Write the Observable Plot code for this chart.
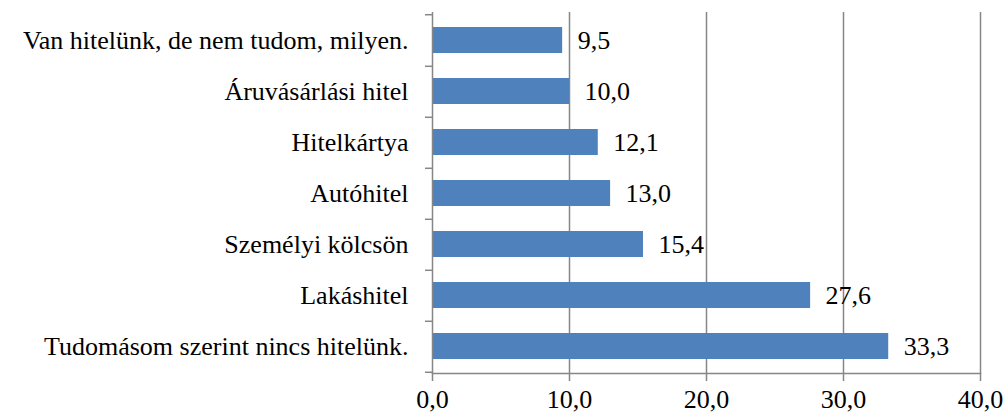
<!DOCTYPE html>
<html>
<head>
<meta charset="utf-8">
<script src="https://cdn.jsdelivr.net/npm/d3@7"></script>
<script src="https://cdn.jsdelivr.net/npm/@observablehq/plot@0.6"></script>
<style>
  html, body { margin: 0; padding: 0; background: #fff; font-family: "Liberation Serif", serif; }
</style>
</head>
<body>
<div id="chart"></div>
<script>
const categories = [
  "Van hitelünk, de nem tudom, milyen.",
  "Áruvásárlási hitel",
  "Hitelkártya",
  "Autóhitel",
  "Személyi kölcsön",
  "Lakáshitel",
  "Tudomásom szerint nincs hitelünk."
];
const values = [9.5, 10.0, 12.1, 13.0, 15.4, 27.6, 33.3];
const xTicks = [0, 10, 20, 30, 40];

const data = categories.map((c, i) => ({category: c, value: values[i]}));
const fmt = d3.formatLocale({decimal: ",", thousands: " ", grouping: [3], currency: ["", ""]}).format(".1f");

const width = 1008, height = 420;
const marginTop = 12, marginBottom = 47, marginLeft = 432, marginRight = 28;
const step = (height - marginTop - marginBottom) / categories.length;
const gray = "#868686";
const font = "Liberation Serif";
const fs = 26;

const chart = Plot.plot({
  width, height, marginTop, marginBottom, marginLeft, marginRight,
  style: {background: "#fff", color: "#000"},
  x: {domain: [0, 40], ticks: xTicks},
  y: {domain: categories, paddingInner: 0.5, paddingOuter: 0.25},
  marks: [
    Plot.ruleX(xTicks.slice(1), {stroke: gray, strokeWidth: 1.5}),
    Plot.barX(data, {x: "value", y: "category", fill: "#4F81BD"}),
    Plot.ruleX([0], {stroke: gray, strokeWidth: 1.5}),
    Plot.frame({anchor: "bottom", stroke: gray, strokeWidth: 1.5}),
    Plot.axisX({ticks: xTicks, tickSize: 8, tickPadding: 8, tickFormat: fmt, stroke: gray, strokeWidth: 1.5, fill: "#000", fontSize: fs, fontVariant: "normal", label: null}),
    Plot.axisY({tickSize: 0, tickPadding: 24, fill: "#000", fontSize: fs, label: null}),
    Plot.axisY({tickSize: 7, tickFormat: () => "", stroke: gray, strokeWidth: 1.5, dy: step / 2, label: null}),
    Plot.axisY({ticks: [categories[0]], tickSize: 7, tickFormat: () => "", stroke: gray, strokeWidth: 1.5, dy: -step / 2, label: null}),
    Plot.text(data, {x: "value", y: "category", text: d => fmt(d.value), dx: 15, textAnchor: "start", fill: "#000", fontSize: fs})
  ]
});
function forceFont(root) {
  root.setAttribute("font-family", font);
  root.style.setProperty("font-family", font, "important");
  root.querySelectorAll("g, text, tspan").forEach(el => {
    el.setAttribute("font-family", font);
    el.style.setProperty("font-family", font, "important");
  });
}
forceFont(chart);
document.getElementById("chart").appendChild(chart);
forceFont(chart);
requestAnimationFrame(() => forceFont(chart));
</script>
</body>
</html>
